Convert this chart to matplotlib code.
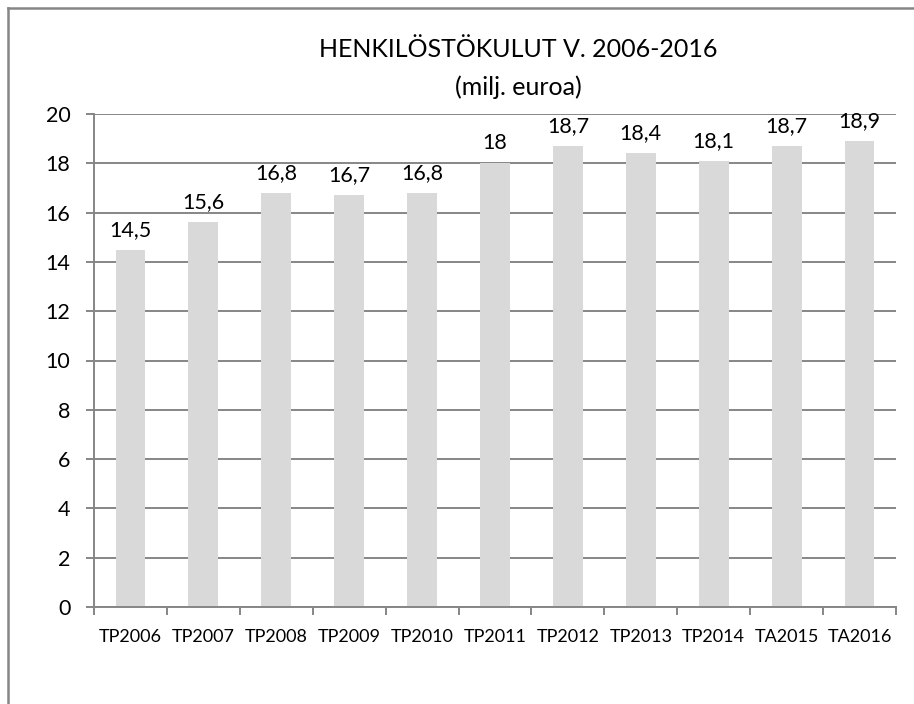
import matplotlib.pyplot as plt
from matplotlib.lines import Line2D

# Data
years = ['TP2006', 'TP2007', 'TP2008', 'TP2009', 'TP2010', 'TP2011',
         'TP2012', 'TP2013', 'TP2014', 'TA2015', 'TA2016']
costs = [14.5, 15.6, 16.8, 16.7, 16.8, 18, 18.7, 18.4, 18.1, 18.7, 18.9]
yticks = [0, 2, 4, 6, 8, 10, 12, 14, 16, 18, 20]

plt.rcParams['font.family'] = ['Lato', 'DejaVu Sans']
grey = '#868686'

fig = plt.figure(figsize=(9.14, 7.04), dpi=100)
ax = fig.add_axes([94 / 914, 97 / 704, 802 / 914, 493 / 704])

x = list(range(len(years)))
ax.bar(x, costs, width=0.41, color='#d9d9d9', zorder=2)

for xi, v in zip(x, costs):
    lbl = f'{v:g}'.replace('.', ',')
    ax.annotate(lbl, (xi, v), xytext=(0, 10), textcoords='offset points',
                ha='center', va='baseline', fontsize=15.5, color='black')

ax.set_xlim(-0.5, len(years) - 0.5)
ax.set_ylim(0, 20)
ax.set_yticks(yticks)
ax.set_yticklabels([str(t) for t in yticks], fontsize=15.5)
ax.yaxis.grid(True, color=grey, linewidth=1.4, zorder=0)
ax.set_axisbelow(True)

# category boundaries get the tick marks, labels sit in between
ax.set_xticks([i + 0.5 for i in range(-1, len(years))], minor=False)
ax.set_xticklabels([''] * (len(years) + 1))
ax.set_xticks(x, minor=True)
ax.set_xticklabels(years, minor=True, fontsize=13)
ax.tick_params(axis='x', which='major', length=6, width=1.4, color=grey, direction='out')
ax.tick_params(axis='x', which='minor', length=0, pad=16)
ax.tick_params(axis='y', length=6, width=1.4, color=grey, pad=11)

for s in ['top', 'right']:
    ax.spines[s].set_visible(False)
for s in ['left', 'bottom']:
    ax.spines[s].set_color(grey)
    ax.spines[s].set_linewidth(1.4)

fig.text(518 / 914, 1 - 57 / 704, 'HENKILÖSTÖKULUT V. 2006-2016', ha='center', va='baseline', fontsize=18)
fig.text(518 / 914, 1 - 95 / 704, '(milj. euroa)', ha='center', va='baseline', fontsize=18)

# chart border (only top and left are inside the picture)
fig.add_artist(Line2D([8 / 914, 8 / 914], [0, 1 - 8 / 704], color=grey, linewidth=1.8))
fig.add_artist(Line2D([8 / 914, 1], [1 - 8 / 704, 1 - 8 / 704], color=grey, linewidth=1.8))

plt.savefig('out.png', dpi=100)
